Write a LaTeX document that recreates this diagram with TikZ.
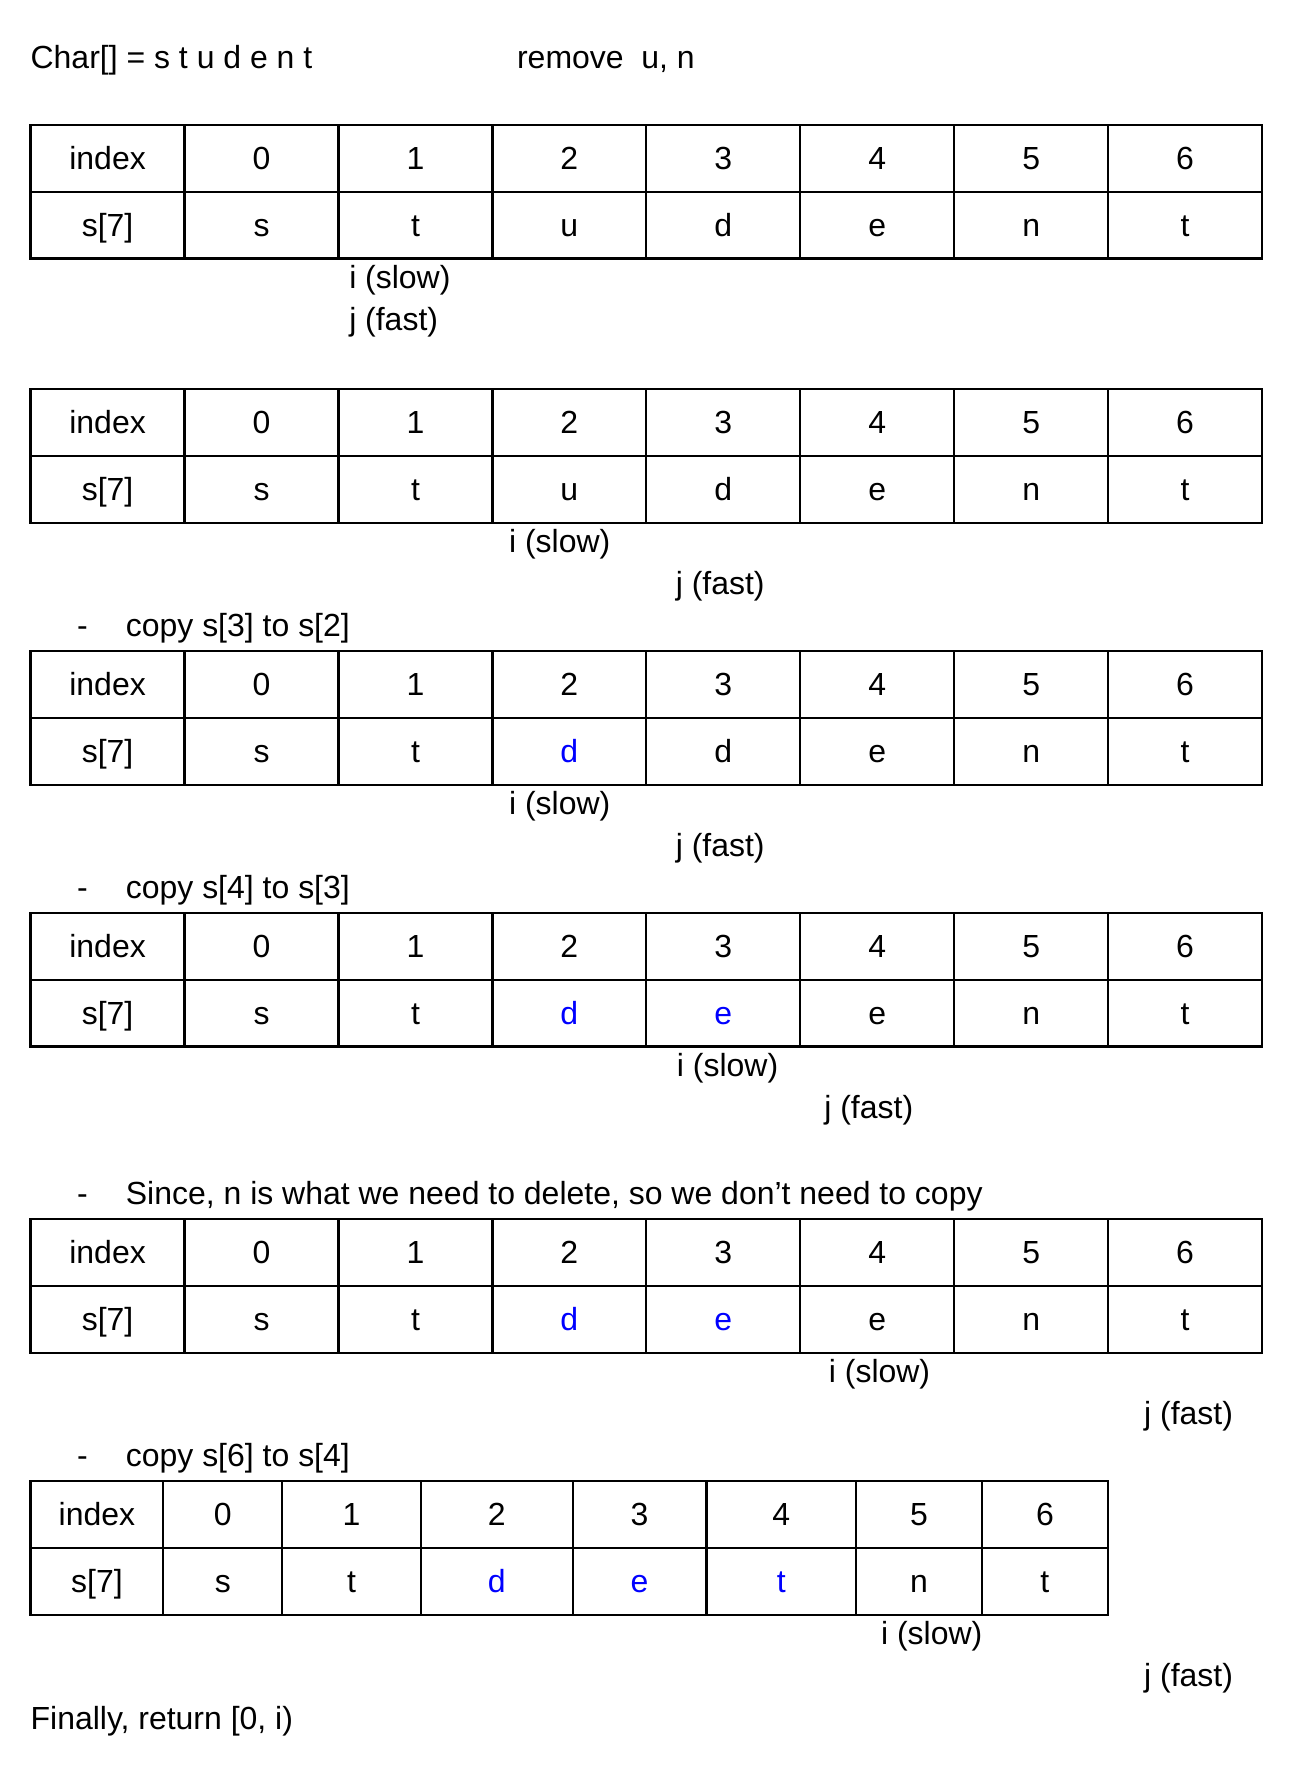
\documentclass[tikz,border=0pt]{standalone}
\usepackage{fontspec}
\setmainfont{Liberation Sans}
\definecolor{copyblue}{RGB}{0,0,255}
% one array table: name, top edge, column edges, s[7] entries (letter/colour)
\newcommand{\arrtable}[4]{%
  \foreach \v/\col [count=\k from 0] in {{s[7]}/black,#4} {
    \pgfmathsetmacro{\xl}{{#3}[\k]}
    \pgfmathsetmacro{\xr}{{#3}[\k+1]}
    \ifnum\k=0 \def\hd{index}\else\pgfmathtruncatemacro{\hd}{\k-1}\fi
    \node[cellbox,minimum width={(\xr-\xl)*0.5pt}] (#1h\k) at ({(\xl+\xr)/2},{#2+29.5}) {\hd};
    \node[cellbox,minimum width={(\xr-\xl)*0.5pt},text=\col] (#1v\k) at ({(\xl+\xr)/2},{#2+88.5}) {\v};
  }%
}
\begin{document}
\begin{tikzpicture}[x=0.5pt,y=-0.5pt,inner sep=0pt,outer sep=0pt,
font=\fontsize{14.1}{17}\selectfont,
cellbox/.style={draw,rectangle,line width=1pt,minimum height=29.5pt,text height=10.1pt,text depth=0pt},
note/.style={anchor=west,text height=10.1pt,text depth=0pt}]
\useasboundingbox (0,0) rectangle (1155,1568);
\node[note] (title) at (27,50) {Char[] = s t u d e n t};
\node[note] (remove) at (456,50) {remove~ u, n};
% start
\arrtable{a}{110}{27,162.75,298.5,434.25,570,705.75,841.5,977.25,1113}{s/black,t/black,u/black,d/black,e/black,n/black,t/black}
\node[note] (aslow) at (308,244) {i (slow)};
\node[note] (afast) at (308,281) {j (fast)};
% j finds u
\arrtable{b}{343}{27,162.75,298.5,434.25,570,705.75,841.5,977.25,1113}{s/black,t/black,u/black,d/black,e/black,n/black,t/black}
\node[note] (bslow) at (449,477) {i (slow)};
\node[note] (bfast) at (596,514) {j (fast)};
% copy s[3]
\node[note] (cdash) at (68,551) {-};
\node[note] (cstep) at (111,551) {copy s[3] to s[2]};
\arrtable{c}{574}{27,162.75,298.5,434.25,570,705.75,841.5,977.25,1113}{s/black,t/black,d/copyblue,d/black,e/black,n/black,t/black}
\node[note] (cslow) at (449,708) {i (slow)};
\node[note] (cfast) at (596,745) {j (fast)};
% copy s[4]
\node[note] (ddash) at (68,782) {-};
\node[note] (dstep) at (111,782) {copy s[4] to s[3]};
\arrtable{d}{805}{27,162.75,298.5,434.25,570,705.75,841.5,977.25,1113}{s/black,t/black,d/copyblue,e/copyblue,e/black,n/black,t/black}
\node[note] (dslow) at (597,939) {i (slow)};
\node[note] (dfast) at (727,976) {j (fast)};
% skip n
\node[note] (edash) at (68,1052) {-};
\node[note] (estep) at (111,1052) {Since, n is what we need to delete, so we don’t need to copy};
\arrtable{e}{1075}{27,162.75,298.5,434.25,570,705.75,841.5,977.25,1113}{s/black,t/black,d/copyblue,e/copyblue,e/black,n/black,t/black}
\node[note] (eslow) at (731,1209) {i (slow)};
\node[note] (efast) at (1009,1246) {j (fast)};
% copy s[6]
\node[note] (fdash) at (68,1283) {-};
\node[note] (fstep) at (111,1283) {copy s[6] to s[4]};
\arrtable{f}{1306}{27,144,249,371,505,623,755,866,977}{s/black,t/black,d/copyblue,e/copyblue,t/copyblue,n/black,t/black}
\node[note] (fslow) at (777,1440) {i (slow)};
\node[note] (ffast) at (1009,1477) {j (fast)};
\node[note] (result) at (27,1515) {Finally, return [0, i)};
\end{tikzpicture}
\end{document}
